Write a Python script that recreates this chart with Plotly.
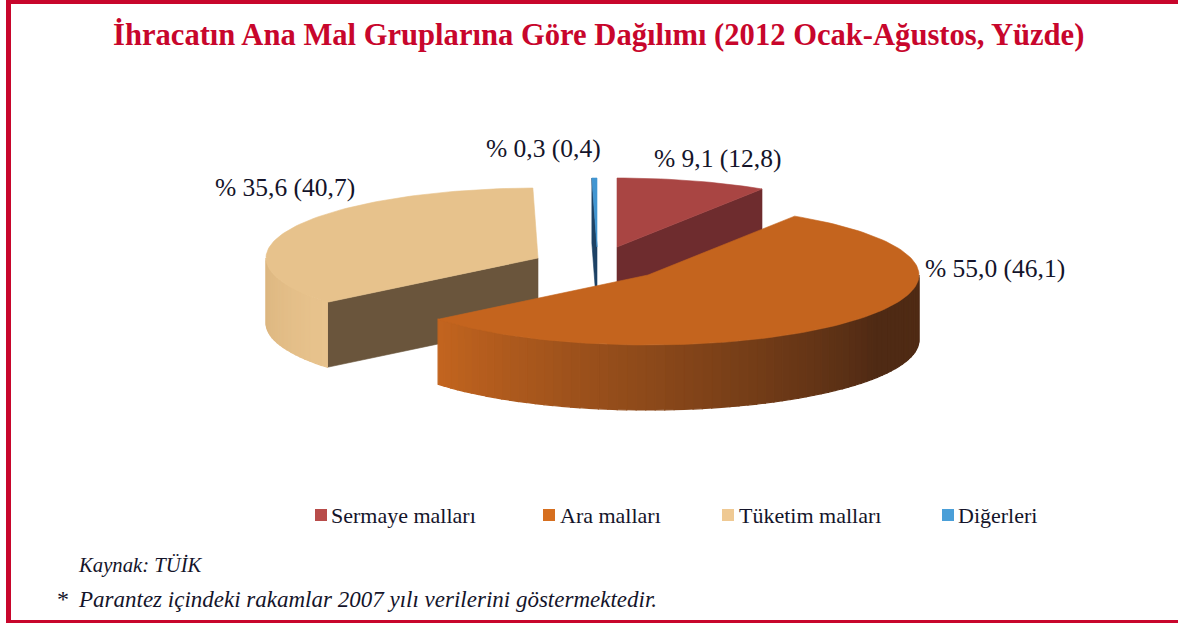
import math
import plotly.graph_objects as go

# ---- data ----
categories = ["Sermaye malları", "Ara malları", "Tüketim malları", "Diğerleri"]
share_2012 = [9.1, 55.0, 35.6, 0.3]
share_2007 = [12.8, 46.1, 40.7, 0.4]

title = "İhracatın Ana Mal Gruplarına Göre Dağılımı (2012 Ocak-Ağustos, Yüzde)"
source_note = "Kaynak: TÜİK"
paren_note = "Parantez içindeki rakamlar 2007 yılı verilerini göstermektedir."

# ---- styling / projection of the exploded "3D" pie (pixel-like axes) ----
W, H = 1178, 623
RED = "#c8062c"
INK = "#14142a"
TOP = ["#a94543", "#c4641e", "#e7c28c", "#4196d2"]
FACE = ["#6e2c2e", "#8a4718", "#6a553c", "#1d4265"]
RIM_FROM = ["#a94543", "#c4651f", "#e8c38d", "#4196d2"]
RIM_TO = ["#6e2c2e", "#4f2a14", "#dcb680", "#1d4265"]
CENTER = [(617, 247), (648, 275), (538, 258), (597, 247)]
RX, RY = [268, 271, 272, 272], [69, 70, 70, 69]
DEPTH = 65
LABEL_POS = [(652, 158), (923, 268), (213, 187), (484, 148)]
LEGEND_SWATCH = [315, 543, 722, 942]
LEGEND_TEXT = [329, 558, 737, 956]
LEGEND_Y = 515
ORANGE_DARK_FROM = 122  # angle beyond which the front rim is at its darkest


def pt(i, deg, drop=0.0):
    a = math.radians(deg)
    cx, cy = CENTER[i]
    return cx + RX[i] * math.sin(a), cy - RY[i] * math.cos(a) + drop


def mix(c1, c2, t):
    a = [int(c1[k:k + 2], 16) for k in (1, 3, 5)]
    b = [int(c2[k:k + 2], 16) for k in (1, 3, 5)]
    return "#%02x%02x%02x" % tuple(round(p + (q - p) * t) for p, q in zip(a, b))


def poly(points, color, name, lw=0.6):
    xs = [p[0] for p in points] + [points[0][0]]
    ys = [p[1] for p in points] + [points[0][1]]
    return go.Scatter(x=xs, y=ys, mode="lines", fill="toself", fillcolor=color,
                      line=dict(color=color, width=lw), hoverinfo="text", text=name,
                      showlegend=False)


total = sum(share_2012)
starts, ends, acc = [], [], 0.0
for v in share_2012:
    starts.append(acc / total * 360)
    acc += v
    ends.append(acc / total * 360)

fig = go.Figure()

# paint order: back slices first, the large front slice last
for i in [0, 3, 2, 1]:
    s, e = starts[i], ends[i]
    name = categories[i]
    # visible cut faces
    if i == 0:
        fig.add_trace(poly([CENTER[i], pt(i, e), pt(i, e, DEPTH),
                            (CENTER[i][0], CENTER[i][1] + DEPTH)], FACE[i], name))
    if i in (2, 3):
        fig.add_trace(poly([pt(i, s), CENTER[i], (CENTER[i][0], CENTER[i][1] + DEPTH),
                            pt(i, s, DEPTH)], FACE[i], name))
    # visible outer rim, as shaded strips
    lo, hi = max(s, 90), min(e, 270)
    if hi > lo:
        n = max(2, int((hi - lo) / 2))
        for k in range(n):
            a0 = lo + (hi - lo) * k / n
            a1 = lo + (hi - lo) * (k + 1) / n
            if i == 1:
                t = min(1.0, (hi - a0) / (hi - ORANGE_DARK_FROM))
            else:
                t = k / (n - 1)
            col = mix(RIM_FROM[i], RIM_TO[i], t)
            fig.add_trace(poly([pt(i, a0), pt(i, a1), pt(i, a1, DEPTH), pt(i, a0, DEPTH)], col, name, lw=1.2))
    # top face
    steps = max(2, int((e - s) / 1.5))
    arc = [pt(i, s + (e - s) * k / steps) for k in range(steps + 1)]
    fig.add_trace(poly([CENTER[i]] + arc, TOP[i], name))

annotations = []


def text(x, y, s, size, color=INK, anchor="left", italic=False):
    annotations.append(dict(x=x, y=y, text=s, xref="x", yref="y", showarrow=False,
                            xanchor=anchor, yanchor="middle",
                            font=dict(family="Liberation Serif", size=size, color=color,
                                      style="italic" if italic else "normal")))


def dec(v):
    return f"{v:.1f}".replace(".", ",")


for i in range(4):
    x, y = LABEL_POS[i]
    text(x, y, f"% {dec(share_2012[i])} ({dec(share_2007[i])})", 25.5)

annotations.append(dict(x=598, y=35, text=f"<b>{title}</b>", xref="x", yref="y", showarrow=False,
                        xanchor="center", yanchor="middle",
                        font=dict(family="Liberation Serif", size=30.6, color=RED)))
text(76, 565, source_note, 20.7, italic=True)
text(55, 599, "*", 24)
text(76, 599, paren_note, 23, italic=True)

shapes = [
    dict(type="rect", xref="x", yref="y", x0=6, x1=W, y0=0, y1=4, fillcolor=RED, line_width=0),
    dict(type="rect", xref="x", yref="y", x0=6, x1=11, y0=0, y1=H, fillcolor=RED, line_width=0),
    dict(type="rect", xref="x", yref="y", x0=6, x1=W, y0=620, y1=H, fillcolor=RED, line_width=0),
]
for i in range(4):
    shapes.append(dict(type="rect", xref="x", yref="y", x0=LEGEND_SWATCH[i], x1=LEGEND_SWATCH[i] + 12,
                       y0=LEGEND_Y - 6, y1=LEGEND_Y + 6,
                       fillcolor=["#b84c4a", "#d66f1f", "#efc993", "#4a9fd8"][i], line_width=0))
    text(LEGEND_TEXT[i], LEGEND_Y, categories[i], 22)

fig.update_layout(
    width=W, height=H, margin=dict(l=0, r=0, t=0, b=0),
    paper_bgcolor="white", plot_bgcolor="white", showlegend=False,
    xaxis=dict(range=[0, W], visible=False, fixedrange=True),
    yaxis=dict(range=[H, 0], visible=False, fixedrange=True),
    annotations=annotations, shapes=shapes,
)
fig.write_html("out.html", config=dict(displayModeBar=False),
               post_script="document.body.style.margin='0';document.body.style.overflow='hidden';")
